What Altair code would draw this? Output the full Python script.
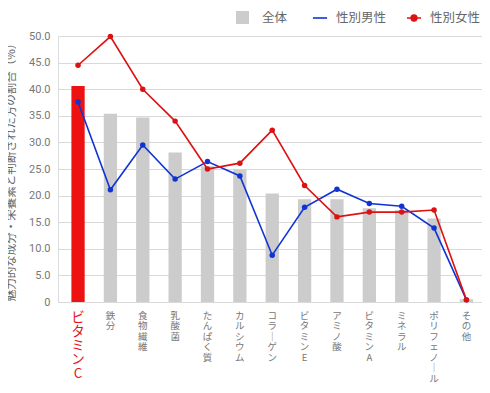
import altair as alt
import pandas as pd

categories = ["ビタミンC", "鉄分", "食物繊維", "乳酸菌", "たんぱく質", "カルシウム", "コラーゲン",
              "ビタミンE", "アミノ酸", "ビタミンA", "ミネラル", "ポリフェノール", "その他"]
total = [40.6, 35.4, 34.7, 28.1, 25.5, 24.9, 20.4, 19.3, 19.3, 17.6, 17.3, 15.7, 0.5]
male = [37.6, 21.1, 29.5, 23.1, 26.4, 23.7, 8.8, 17.8, 21.2, 18.5, 18.0, 13.9, 0.4]
female = [44.5, 49.9, 40.0, 34.0, 25.0, 26.1, 32.3, 21.9, 16.0, 16.9, 16.9, 17.3, 0.4]
series_names = ["全体", "性別男性", "性別女性"]
y_ticks = [0, 5, 10, 15, 20, 25, 30, 35, 40, 45, 50]

RED_BAR = "#ee1111"
RED = "#dd1111"
BLUE = "#1034d4"
GRAY = "#cccccc"
FONT = "Noto Sans CJK JP"

df = pd.DataFrame({
    "cat": categories,
    "total": total,
    "male": male,
    "female": female,
    "s_total": series_names[0],
    "s_male": series_names[1],
    "s_female": series_names[2],
})

x_axis = alt.Axis(
    title=None, labelAngle=0, ticks=False, domain=True, domainColor="#d9d9d9",
    labelPadding=8, labelFont=FONT, labelOverlap=False, labelLimit=0,
    labelExpr="split(replace(datum.label, 'ー', '｜'), '')",
    labelColor=alt.condition("datum.value == 'ビタミンC'", alt.value("#e8141b"), alt.value("#777777")),
    labelFontSize=alt.condition("datum.value == 'ビタミンC'", alt.value(13.5), alt.value(9.5)),
    labelLineHeight=alt.expr("datum.value == 'ビタミンC' ? 14 : 10.5"),
    labelBaseline="top", grid=False,
)
x_scale = alt.Scale(paddingInner=0.59, paddingOuter=0.345, align=0.6)
x = alt.X("cat:N", sort=categories, scale=x_scale, axis=x_axis)

y_scale = alt.Scale(domain=[0, 50], nice=False)
y_axis = alt.Axis(
    title="魅力的な成分・栄養素と判断された方の割合（%）",
    values=y_ticks,
    tickCount=11,
    labelExpr="datum.value == 0 ? '0' : format(datum.value, '.1f')",
    labelOverlap=False,
    grid=True, gridColor="#d9d9d9", domain=False, ticks=False,
    labelPadding=8, labelColor="#777777", labelFontSize=11, labelFont="Roboto",
    titleFont=FONT, titleFontSize=11.5, titleColor="#666666", titleFontWeight="normal",
    titlePadding=12,
)

def ycol(field):
    return alt.Y(f"{field}:Q", scale=y_scale, axis=y_axis)

base = alt.Chart(df).encode(x=x)

legend_common = dict(
    orient="none", title=None, labelFont=FONT, labelFontSize=12.5, labelColor="#666666",
    padding=0, offset=0,
)

bars = base.mark_bar().encode(
    y=ycol("total"),
    fill=alt.condition(
        "datum.cat == 'ビタミンC'",
        alt.value(RED_BAR),
        alt.Fill("s_total:N", scale=alt.Scale(range=[GRAY]),
                 legend=alt.Legend(legendX=177, legendY=-26, symbolType="square",
                                   symbolSize=169, labelOffset=12, **legend_common)),
    ),
)

male_line = base.mark_line(strokeWidth=1.6).encode(
    y=ycol("male"),
    stroke=alt.Stroke("s_male:N", scale=alt.Scale(range=[BLUE]),
                      legend=alt.Legend(legendX=254, legendY=-26, symbolType="stroke",
                                        symbolSize=200, symbolStrokeWidth=1.6,
                                        labelOffset=8, **legend_common)),
)
male_pts = base.mark_circle(size=30, opacity=1, color=BLUE).encode(y=ycol("male"))

dot_path = ("M-1,0L1,0"
            "M-0.4,0A0.4,0.4,0,1,1,0.4,0A0.4,0.4,0,1,1,-0.4,0"
            "M-0.25,0A0.25,0.25,0,1,1,0.25,0A0.25,0.25,0,1,1,-0.25,0"
            "M-0.1,0A0.1,0.1,0,1,1,0.1,0A0.1,0.1,0,1,1,-0.1,0")
female_line = base.mark_line(strokeWidth=1.6).encode(
    y=ycol("female"),
    stroke=alt.Stroke("s_female:N", scale=alt.Scale(range=[RED]),
                      legend=alt.Legend(legendX=348, legendY=-26, symbolType=dot_path,
                                        symbolSize=200, symbolStrokeWidth=1.6,
                                        symbolFillColor=RED,
                                        labelOffset=8, **legend_common)),
)
female_pts = base.mark_circle(size=30, opacity=1, color=RED).encode(y=ycol("female"))

chart = alt.layer(bars, male_line, male_pts, female_line, female_pts).resolve_scale(
    stroke="independent"
).resolve_legend(stroke="independent").properties(
    width=424, height=266,
    autosize=alt.AutoSizeParams(type="none"),
    padding={"left": 50, "top": 28, "right": 0, "bottom": 83},
).configure_view(stroke=None).configure(font=FONT)

chart.save("out.html", embed_options={"renderer": "svg", "actions": False})
